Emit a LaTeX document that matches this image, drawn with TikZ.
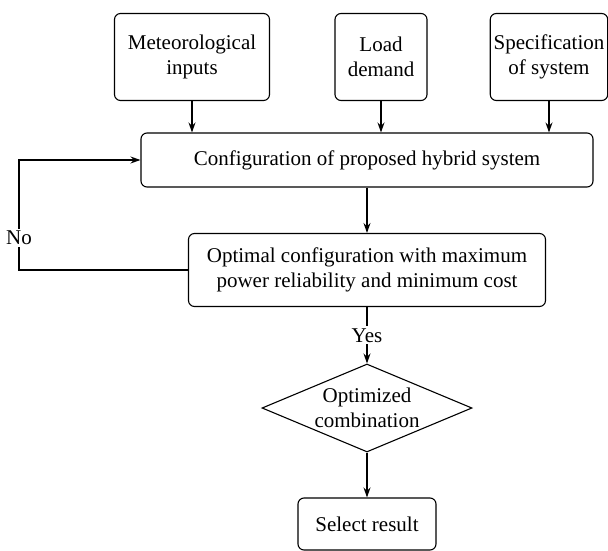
\documentclass[tikz,border=0pt]{standalone}
\usepackage{fontspec}
\setmainfont{Liberation Serif}
\usepackage{tikz}
\usetikzlibrary{shapes.geometric, arrows.meta}
\tikzstyle{inputbox} = [rectangle, rounded corners=6pt, 
minimum height=87pt, 
align=center, 
draw=black, line width=1.1pt]
\tikzstyle{process} = [rectangle, rounded corners=6pt, 
minimum height=54pt, 
align=center, 
draw=black, line width=1.1pt]
\tikzstyle{decision} = [diamond, 
minimum width=210pt, 
minimum height=88pt, 
align=center, 
inner sep=-3pt,
aspect=2.4,
draw=black, line width=1.1pt]
\tikzstyle{arrow} = [line width=1.1pt,-{Stealth[length=10pt,width=7pt]}]
\tikzstyle{answer} = [fill=white, inner sep=2pt]

\begin{document}
\begin{tikzpicture} [node distance=110pt, font=\fontsize{21}{25}\selectfont]
    \useasboundingbox (0,0) rectangle (608pt,-551pt);

    \node (meteo) [inputbox, minimum width=155pt] at (192pt,-57pt) {Meteorological\\inputs};
    \node (load) [inputbox, minimum width=92pt, right of=meteo, xshift=79pt] {Load\\demand};
    \node (spec) [inputbox, minimum width=116pt, right of=load, xshift=58pt] {Specification\\of system};
    \node (config) [process, minimum width=452pt, below of=load, xshift=-14pt, yshift=7pt] {Configuration of proposed hybrid system};
    \node (optimal) [process, minimum width=357pt, minimum height=73pt, below of=config] {Optimal configuration with maximum\\power reliability and minimum cost};
    \node (combo) [decision, below of=optimal, yshift=-28pt] {Optimized\\combination};
    \node (select) [process, minimum width=138pt, minimum height=52pt, below of=combo, yshift=-6pt] {Select result};

    \coordinate (back) at (19pt,-206pt);

    \draw [arrow] (meteo) -- (meteo |- config.north);
    \draw [arrow] (load) -- (load |- config.north);
    \draw [arrow] (spec) -- (spec |- config.north);
    \draw [arrow] (config) -- (optimal);
    \draw [arrow] (optimal) -- node[answer] {Yes} (combo);
    \draw [arrow] (combo) -- (select);
    \draw [arrow] (optimal.west) -| node[answer, pos=0.75] {No} (back) |- (config.west);

\end{tikzpicture}
\end{document}
